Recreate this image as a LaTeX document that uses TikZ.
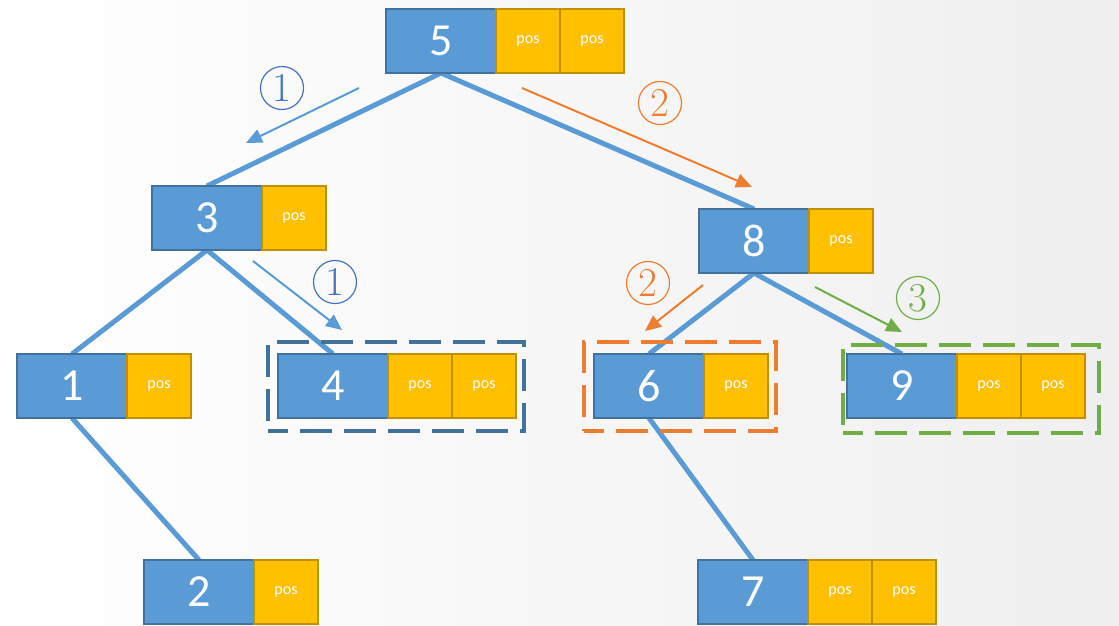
\documentclass[tikz,border=0pt]{standalone}
\usepackage{fontspec}
\newfontfamily\carl{Carlito}
\usetikzlibrary{arrows.meta,fit}
\definecolor{keyblue}{HTML}{5B9BD5}
\definecolor{keyborder}{HTML}{41719C}
\definecolor{posyellow}{HTML}{FFC000}
\definecolor{posborder}{HTML}{BF9000}
\definecolor{stepblue}{HTML}{4472C4}
\definecolor{steporange}{HTML}{ED7D31}
\definecolor{stepgreen}{HTML}{70AD47}
\definecolor{bggray}{HTML}{EFEFEF}
\pgfdeclarelayer{bg}\pgfdeclarelayer{edges}\pgfsetlayers{bg,edges,main}
\tikzset{
  key/.style={draw=keyborder, fill=keyblue, line width=2pt, minimum width=110pt, minimum height=64pt,
    inner sep=0pt, outer sep=0pt, anchor=north west, text=white, font=\carl\fontsize{46}{46}\selectfont},
  posbox/.style={draw=posborder, fill=posyellow, line width=2pt, minimum width=64pt, minimum height=64pt,
    inner sep=0pt, outer sep=0pt, anchor=north west, text=white, text height=1ex, text depth=0pt,
    font=\carl\fontsize{16}{16}\selectfont},
  treeedge/.style={draw=keyblue, line width=5pt},
  steparrow/.style={draw=#1, line width=2pt, -{Triangle[length=16pt,width=14pt]}},
  circlab/.style={circle, draw=#1, text=#1, line width=1.2pt, minimum size=43pt, inner sep=0pt,
    font=\fontsize{41}{41}\selectfont},
  dashbox/.style={draw=#1, line width=3.5pt, dash pattern=on 32pt off 12pt, dash phase=12pt, inner sep=0pt},
}
\begin{document}
\begin{tikzpicture}[x=1pt,y=-1pt]
\useasboundingbox (0,0) rectangle (1119,625);
\begin{pgfonlayer}{bg}
\shade[left color=white, right color=bggray] (0,0) rectangle (1119,625);
\end{pgfonlayer}

% nodes
\node[key] (k5) at (386,9) {5};
\node[posbox] (p5a) at (k5.north east) {pos};
\node[posbox] (p5b) at (p5a.north east) {pos};

\node[key] (k3) at (152,186) {3};
\node[posbox] (p3a) at (k3.north east) {pos};

\node[key] (k8) at (699,209) {8};
\node[posbox] (p8a) at (k8.north east) {pos};

\node[key] (k1) at (17,354) {1};
\node[posbox] (p1a) at (k1.north east) {pos};

\node[key] (k4) at (278,354) {4};
\node[posbox] (p4a) at (k4.north east) {pos};
\node[posbox] (p4b) at (p4a.north east) {pos};

\node[key] (k6) at (594,354) {6};
\node[posbox] (p6a) at (k6.north east) {pos};

\node[key] (k9) at (847,354) {9};
\node[posbox] (p9a) at (k9.north east) {pos};
\node[posbox] (p9b) at (p9a.north east) {pos};

\node[key] (k2) at (144,560) {2};
\node[posbox] (p2a) at (k2.north east) {pos};

\node[key] (k7) at (698,560) {7};
\node[posbox] (p7a) at (k7.north east) {pos};
\node[posbox] (p7b) at (p7a.north east) {pos};

% tree edges
\begin{pgfonlayer}{edges}
\draw[treeedge] (k5.south) -- (k3.north);
\draw[treeedge] (k5.south) -- (k8.north);
\draw[treeedge] (k3.south) -- (k1.north);
\draw[treeedge] (k3.south) -- (k4.north);
\draw[treeedge] (k1.south) -- (k2.north);
\draw[treeedge] (k8.south) -- (k6.north);
\draw[treeedge] (k8.south) -- (k9.north);
\draw[treeedge] (k6.south) -- (k7.north);
\end{pgfonlayer}

% dashed boxes
\coordinate (d4a) at (268,342); \coordinate (d4b) at (524,431);
\node[dashbox=keyborder, fit=(d4a)(d4b)] (box4) {};
\coordinate (d6a) at (584,342); \coordinate (d6b) at (776,431);
\node[dashbox=steporange, fit=(d6a)(d6b)] (box6) {};
\coordinate (d9a) at (843,345); \coordinate (d9b) at (1099,433);
\node[dashbox=stepgreen, fit=(d9a)(d9b)] (box9) {};

% step arrows
\coordinate (a1s) at (359,88);  \coordinate (a1e) at (246,143);
\coordinate (a2s) at (522,88);  \coordinate (a2e) at (752,187);
\coordinate (a3s) at (253,261); \coordinate (a3e) at (342,330);
\coordinate (a4s) at (703,285); \coordinate (a4e) at (645,331);
\coordinate (a5s) at (815,287); \coordinate (a5e) at (902,332);
\draw[steparrow=keyblue] (a1s) -- (a1e);
\draw[steparrow=steporange] (a2s) -- (a2e);
\draw[steparrow=keyblue] (a3s) -- (a3e);
\draw[steparrow=steporange] (a4s) -- (a4e);
\draw[steparrow=stepgreen] (a5s) -- (a5e);

% step labels
\node[circlab=stepblue] (c1) at (282,88) {1};
\node[circlab=steporange] (c2) at (660,103) {2};
\node[circlab=stepblue] (c3) at (335,282) {1};
\node[circlab=steporange] (c4) at (648,283) {2};
\node[circlab=stepgreen] (c5) at (918,298) {3};
\end{tikzpicture}
\end{document}
